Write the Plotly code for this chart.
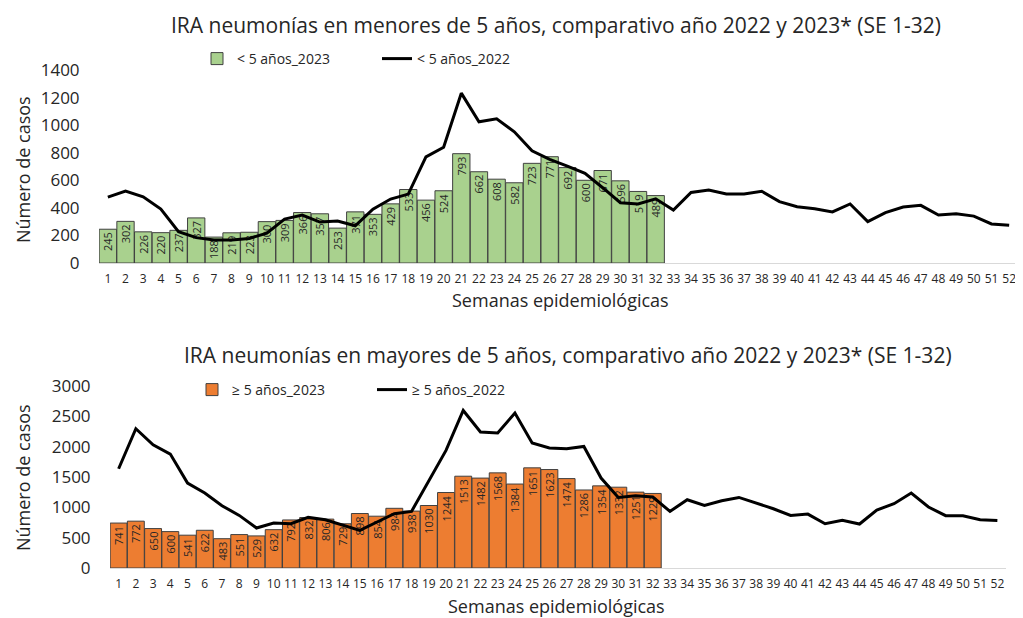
import plotly.graph_objects as go

weeks = list(range(1, 53))
weeks_2023 = list(range(1, 33))

menores_2023 = [245, 302, 226, 220, 237, 327, 188, 219, 223, 300, 309, 366, 357, 253, 371, 353,
                429, 533, 456, 524, 793, 662, 608, 582, 723, 771, 692, 600, 671, 596, 519, 489]
menores_2022 = [478, 522, 480, 391, 227, 184, 167, 167, 178, 217, 319, 348, 297, 305, 270, 391,
                464, 500, 770, 840, 1232, 1024, 1046, 952, 814, 752, 703, 650, 546, 437, 428, 466,
                384, 512, 529, 500, 500, 520, 445, 408, 394, 370, 428, 300, 365, 406, 418, 348,
                357, 340, 283, 273]

mayores_2023 = [741, 772, 650, 600, 541, 622, 483, 551, 529, 632, 792, 832, 806, 729, 898, 854,
                984, 938, 1030, 1244, 1513, 1482, 1568, 1384, 1651, 1623, 1474, 1286, 1354, 1332, 1251, 1229]
mayores_2022 = [1636, 2296, 2032, 1878, 1400, 1236, 1027, 867, 659, 741, 730, 834, 796, 713, 620, 758,
                895, 933, 1427, 1938, 2597, 2241, 2225, 2554, 2060, 1978, 1966, 2004, 1483, 1163, 1191, 1170,
                933, 1125, 1032, 1109, 1163, 1071, 977, 867, 889, 730, 785, 725, 955, 1060, 1236, 1005,
                862, 862, 796, 785]

FONT = "Open Sans"
OFF = 8  # page body margin
W, H = 1023 - OFF, 618 - OFF


def px(x):
    return (x - OFF) / W


def py(y):
    return 1 - (y - OFF) / H


fig = go.Figure()

fig.add_trace(go.Bar(
    x=weeks_2023, y=menores_2023, name="< 5 años_2023",
    marker=dict(color="#A9D18E", line=dict(color="#404040", width=1)),
    text=[str(v) for v in menores_2023], textposition="inside", textangle=-90,
    insidetextanchor="end", textfont=dict(size=11, color="#262626", family=FONT),
    constraintext="none", xaxis="x", yaxis="y", legend="legend"))
fig.add_trace(go.Scatter(
    x=weeks, y=menores_2022, name="< 5 años_2022", mode="lines",
    line=dict(color="black", width=3), xaxis="x", yaxis="y", legend="legend"))

fig.add_trace(go.Bar(
    x=weeks_2023, y=mayores_2023, name="≥ 5 años_2023",
    marker=dict(color="#ED7D31", line=dict(color="#404040", width=1)),
    text=[str(v) for v in mayores_2023], textposition="inside", textangle=-90,
    insidetextanchor="end", textfont=dict(size=11, color="#262626", family=FONT),
    constraintext="none", xaxis="x2", yaxis="y2", legend="legend2"))
fig.add_trace(go.Scatter(
    x=weeks, y=mayores_2022, name="≥ 5 años_2022", mode="lines",
    line=dict(color="black", width=3), xaxis="x2", yaxis="y2", legend="legend2"))

xcommon = dict(tickmode="array", tickvals=weeks, ticktext=[str(w) for w in weeks],
               tickfont=dict(size=12, family=FONT, color="#262626"), tickangle=0,
               showgrid=False, zeroline=False, showline=True, linecolor="#D9D9D9", linewidth=1,
               ticks="outside", ticklen=5, tickcolor="rgba(0,0,0,0)", range=[0.5, 52.5],
               automargin=False)
ycommon = dict(showgrid=False, zeroline=False, showline=False,
               tickfont=dict(size=17, family=FONT, color="#262626"),
               ticks="outside", ticklen=15, tickcolor="rgba(0,0,0,0)", automargin=False)

fig.update_layout(
    width=W, height=H,
    margin=dict(l=0, r=0, t=0, b=0, autoexpand=False),
    paper_bgcolor="white", plot_bgcolor="white",
    font=dict(family=FONT, color="#262626"),
    bargap=0.02,
    xaxis=dict(domain=[px(99), px(1018)], anchor="y", **xcommon),
    yaxis=dict(domain=[py(263), py(70)], anchor="x", range=[0, 1400], dtick=200, **ycommon),
    xaxis2=dict(domain=[px(110), px(1006)], anchor="y2", **xcommon),
    yaxis2=dict(domain=[py(568), py(386)], anchor="x2", range=[0, 3000], dtick=500, **ycommon),
    legend=dict(orientation="h", x=px(197), y=py(59), xanchor="left", yanchor="middle",
                font=dict(size=14, family=FONT), entrywidth=135, entrywidthmode="pixels",
                bgcolor="rgba(0,0,0,0)", itemwidth=30),
    legend2=dict(orientation="h", x=px(192), y=py(390), xanchor="left", yanchor="middle",
                 font=dict(size=14, family=FONT), entrywidth=135, entrywidthmode="pixels",
                 bgcolor="rgba(0,0,0,0)", itemwidth=30),
    annotations=[
        dict(text="IRA neumonías en menores de 5 años, comparativo año 2022 y 2023* (SE 1-32)",
             x=px(556), y=py(9), xref="paper", yref="paper", showarrow=False,
             font=dict(size=21, family=FONT, color="#262626"), xanchor="center", yanchor="top"),
        dict(text="IRA neumonías en mayores de 5 años, comparativo año 2022 y 2023* (SE 1-32)",
             x=px(568), y=py(355), xref="paper", yref="paper", showarrow=False,
             font=dict(size=21, family=FONT, color="#262626"), xanchor="center", yanchor="middle"),
        dict(text="Semanas epidemiológicas", x=px(560), y=py(300), xref="paper", yref="paper",
             showarrow=False, font=dict(size=18, family=FONT), xanchor="center", yanchor="middle"),
        dict(text="Semanas epidemiológicas", x=px(556), y=py(606), xref="paper", yref="paper",
             showarrow=False, font=dict(size=18, family=FONT), xanchor="center", yanchor="middle"),
        dict(text="Número de casos", x=px(9), y=py(170), xref="paper", yref="paper",
             showarrow=False, textangle=-90, font=dict(size=18, family=FONT),
             xanchor="left", yanchor="middle"),
        dict(text="Número de casos", x=px(9), y=py(478), xref="paper", yref="paper",
             showarrow=False, textangle=-90, font=dict(size=18, family=FONT),
             xanchor="left", yanchor="middle"),
    ],
)

fig.write_html("out.html")
